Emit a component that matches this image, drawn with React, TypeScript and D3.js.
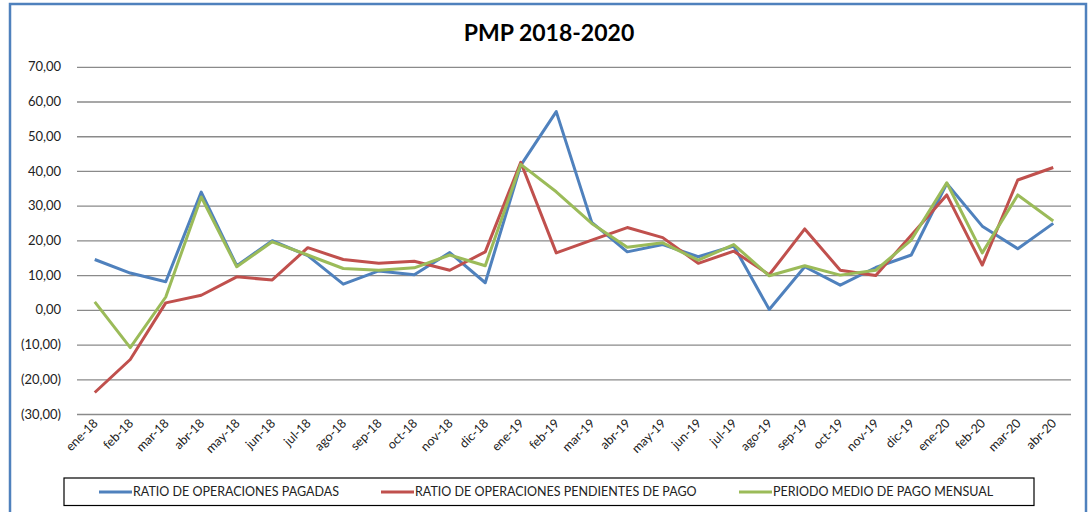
import { useEffect, useRef } from 'react';
import * as d3 from 'd3';

const MONTHS = [
  'ene-18', 'feb-18', 'mar-18', 'abr-18', 'may-18', 'jun-18', 'jul-18', 'ago-18', 'sep-18', 'oct-18', 'nov-18', 'dic-18',
  'ene-19', 'feb-19', 'mar-19', 'abr-19', 'may-19', 'jun-19', 'jul-19', 'ago-19', 'sep-19', 'oct-19', 'nov-19', 'dic-19',
  'ene-20', 'feb-20', 'mar-20', 'abr-20',
];

const PAGADAS = [
  14.5, 10.6, 8.1, 33.9, 12.7, 19.9, 15.6, 7.4, 11.2, 10.1, 16.5, 7.8,
  41.6, 57.1, 25.2, 16.7, 18.8, 15.3, 18.4, 0.1, 12.4, 7.1, 12.2, 15.8,
  36.4, 24.1, 17.6, 24.9,
];

const PENDIENTES = [
  -23.8, -14.3, 2.0, 4.2, 9.5, 8.6, 17.9, 14.5, 13.4, 14.0, 11.4, 16.7,
  42.5, 16.4, 20.1, 23.7, 20.8, 13.4, 16.9, 10.1, 23.3, 11.4, 9.9, 21.5,
  33.1, 12.9, 37.4, 41.0,
];

const PMP = [
  2.3, -10.9, 3.7, 32.5, 12.4, 19.6, 15.8, 11.9, 11.4, 12.1, 15.8, 12.7,
  41.9, 34.0, 24.9, 18.0, 19.3, 14.3, 18.8, 9.8, 12.7, 10.0, 11.4, 20.1,
  36.6, 16.4, 33.1, 25.6,
];

const Y_TICKS = [-30, -20, -10, 0, 10, 20, 30, 40, 50, 60, 70];

const SERIES = [
  { name: 'RATIO DE OPERACIONES PAGADAS', values: PAGADAS, color: '#4F81BD' },
  { name: 'RATIO DE OPERACIONES PENDIENTES DE PAGO', values: PENDIENTES, color: '#C0504D' },
  { name: 'PERIODO MEDIO DE PAGO MENSUAL', values: PMP, color: '#9BBB59' },
];

const FONT = 'Lato, "Open Sans", sans-serif';

function fmt(v: number) {
  const s = Math.abs(v).toFixed(2).replace('.', ',');
  return v < 0 ? `(${s})` : s;
}

export default function App() {
  const svgRef = useRef<SVGSVGElement>(null);

  useEffect(() => {
    document.body.style.margin = '0';
    const el = svgRef.current;
    if (!el) return;
    d3.select(el).selectAll('*').remove();

    const W = 1088;
    const H = 512;
    const svg = d3.select(el).attr('width', W).attr('height', H);

    // chart frame
    svg.append('rect')
      .attr('x', 10).attr('y', 4)
      .attr('width', 1076).attr('height', 520)
      .attr('fill', 'white')
      .attr('stroke', '#4F81BD')
      .attr('stroke-width', 2.5);

    const x = d3.scaleBand<string>().domain(MONTHS).range([77, 1071]);
    const xc = (m: string) => (x(m) ?? 0) + x.bandwidth() / 2;
    const y = d3.scaleLinear().domain([-30, 70]).range([414, 66.8]);

    // title
    svg.append('text')
      .attr('x', 549).attr('y', 41)
      .attr('text-anchor', 'middle')
      .attr('font-family', FONT)
      .attr('font-weight', 'bold')
      .attr('font-size', 23)
      .attr('fill', '#000')
      .text('PMP 2018-2020');

    // gridlines
    const grid = svg.append('g')
      .attr('transform', 'translate(77,0)')
      .call(d3.axisLeft(y).tickValues(Y_TICKS).tickSize(-994).tickFormat(() => ''));
    grid.select('.domain').remove();
    grid.selectAll('line').attr('stroke', '#8a8a8a').attr('stroke-width', 1.3);

    // y labels
    svg.append('g')
      .selectAll('text')
      .data(Y_TICKS)
      .join('text')
      .attr('x', 61)
      .attr('y', (d) => y(d))
      .attr('dy', '0.35em')
      .attr('text-anchor', 'end')
      .attr('font-family', FONT)
      .attr('font-size', 13)
      .attr('fill', '#222')
      .text((d) => fmt(d));

    // x labels
    svg.append('g')
      .selectAll('text')
      .data(MONTHS)
      .join('text')
      .attr('transform', (d) => `translate(${xc(d) + 4},${424}) rotate(-45)`)
      .attr('text-anchor', 'end')
      .attr('font-family', FONT)
      .attr('font-size', 12.5)
      .attr('fill', '#222')
      .text((d) => d);

    // lines
    const line = d3.line<number>()
      .x((_, i) => xc(MONTHS[i]))
      .y((d) => y(d));

    SERIES.forEach((s) => {
      svg.append('path')
        .datum(s.values)
        .attr('d', line)
        .attr('fill', 'none')
        .attr('stroke', s.color)
        .attr('stroke-width', 3)
        .attr('stroke-linejoin', 'round');
    });

    // legend
    svg.append('rect')
      .attr('x', 64).attr('y', 478)
      .attr('width', 970).attr('height', 27.5)
      .attr('fill', 'white')
      .attr('stroke', '#000')
      .attr('stroke-width', 1.2);

    const legendX = [99, 381, 739];
    SERIES.forEach((s, i) => {
      const g = svg.append('g').attr('transform', `translate(${legendX[i]},492)`);
      g.append('line')
        .attr('x1', 0).attr('x2', 33)
        .attr('stroke', s.color)
        .attr('stroke-width', 3);
      g.append('text')
        .attr('x', 34)
        .attr('dy', '0.35em')
        .attr('font-family', FONT)
        .attr('font-size', 12.5)
        .attr('fill', '#222')
        .text(s.name);
    });
  }, []);

  return <svg ref={svgRef} width={1088} height={512} style={{ display: 'block' }} />;
}
